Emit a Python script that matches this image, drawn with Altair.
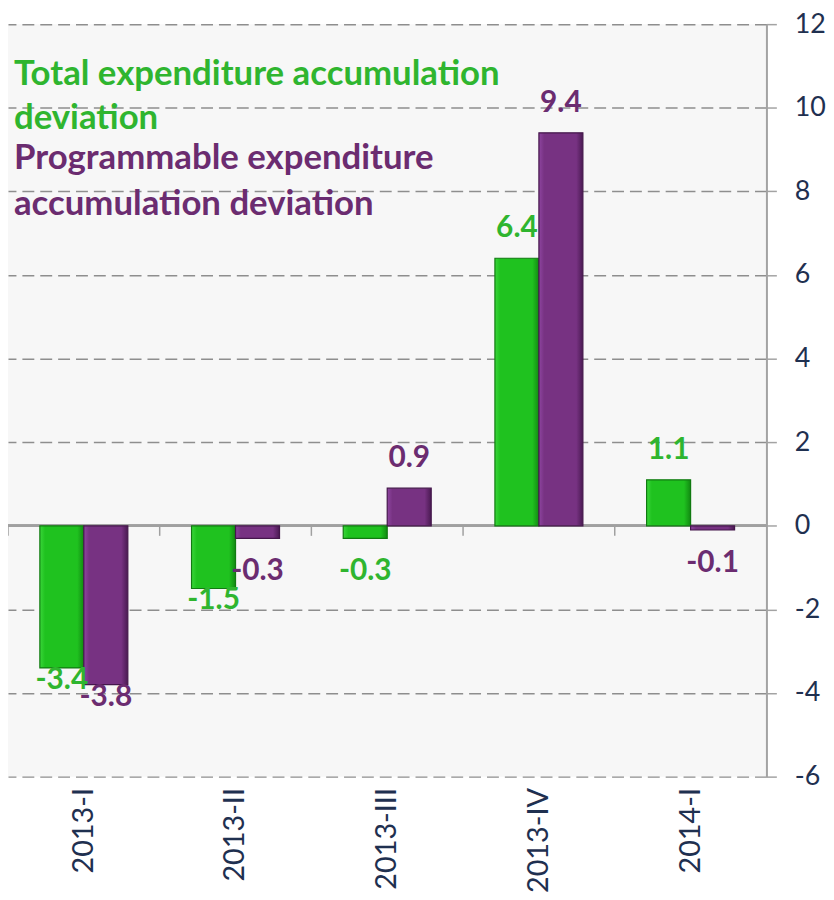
import altair as alt
import pandas as pd

quarters = ["2013-I", "2013-II", "2013-III", "2013-IV", "2014-I"]
total_dev = [-3.4, -1.5, -0.3, 6.4, 1.1]
prog_dev = [-3.8, -0.3, 0.9, 9.4, -0.1]
series_names = ["Total", "Programmable"]
y_ticks = [-6, -4, -2, 0, 2, 4, 6, 8, 10, 12]

GREEN_TXT = "#2fb52f"
PURPLE_TXT = "#6b2c70"

rows = []
for q, t, p in zip(quarters, total_dev, prog_dev):
    rows.append({"quarter": q, "series": "Total", "value": t})
    rows.append({"quarter": q, "series": "Programmable", "value": p})
df = pd.DataFrame(rows)

FONT = "Lato"

x_enc = alt.X("quarter:N", sort=quarters,
              scale=alt.Scale(paddingInner=0.42, paddingOuter=0.21),
              axis=alt.Axis(title=None, labelAngle=270, labelAlign="right",
                            labelBaseline="middle", labelFont=FONT,
                            labelFontSize=29, labelColor="#1f3050",
                            labelPadding=11, domain=False, ticks=False,
                            grid=False))
xo = alt.XOffset("series:N", sort=series_names,
                 scale=alt.Scale(domain=series_names, paddingInner=0, paddingOuter=0))
y_scale = alt.Scale(domain=[-6, 12], nice=False, zero=False)
y_enc = alt.Y("value:Q", scale=y_scale,
              axis=alt.Axis(orient="right", values=y_ticks, title=None,
                            grid=True, gridDash=[12, 6], gridColor="#8e8e8e",
                            gridWidth=1.5, domainColor="#a3a3a3", domainWidth=2,
                            tickColor="#a3a3a3", tickSize=10, tickWidth=1.5,
                            labelFont=FONT, labelFontSize=27,
                            labelColor="#1f3050", labelPadding=18,
                            labelAlign="left",
                            labelExpr="'' + datum.value"))

base = alt.Chart(df).transform_calculate(label="'' + datum.value")

def grad(edge_l, mid, edge_r):
    return alt.Gradient(gradient="linear", x1=0, x2=1, y1=0, y2=0,
                        stops=[alt.GradientStop(color=edge_l, offset=0),
                               alt.GradientStop(color=mid, offset=0.12),
                               alt.GradientStop(color=mid, offset=0.85),
                               alt.GradientStop(color=edge_r, offset=1)])

green_bars = base.transform_filter(alt.datum.series == "Total").mark_bar(
    fill=grad("#3ad63a", "#1fc21f", "#128a12"), stroke="#117a11", strokeWidth=1.2
).encode(x=x_enc, xOffset=xo, y=y_enc, y2=alt.datum(0))

purple_bars = base.transform_filter(alt.datum.series == "Programmable").mark_bar(
    fill=grad("#8e45a0", "#773282", "#4a1a52"), stroke="#44174b", strokeWidth=1.2
).encode(x=x_enc, xOffset=xo, y=y_enc, y2=alt.datum(0))

# zero line
zero_rule = base.mark_rule(color="#a0a0a0", strokeWidth=2).encode(y=alt.datum(0))

def labels(series, color, cond, dy):
    return base.transform_filter(alt.datum.series == series).transform_filter(cond).mark_text(
        font=FONT, fontWeight="bold", fontSize=30, color=color, dy=dy,
        baseline="middle", align="center"
    ).encode(x=x_enc, xOffset=xo, y=y_enc, text="label:N")

label_layers = []
for s, c in [("Total", GREEN_TXT), ("Programmable", PURPLE_TXT)]:
    label_layers.append(labels(s, c, alt.datum.value >= 0, -30))
    label_layers.append(labels(s, c, (alt.datum.value < 0) & (alt.datum.value > -1), 33))
    label_layers.append(labels(s, c, alt.datum.value <= -1, 12))

legend_df = pd.DataFrame({"a": [0]})
legend_green = alt.Chart(legend_df).mark_text(
    text=["Total expenditure accumulation", "deviation"], lineHeight=45,
    font=FONT, fontWeight="bold", fontSize=35, color=GREEN_TXT,
    align="left", baseline="alphabetic"
).encode(x=alt.value(6), y=alt.value(61))
legend_purple = alt.Chart(legend_df).mark_text(
    text=["Programmable expenditure", "accumulation deviation"], lineHeight=46,
    font=FONT, fontWeight="bold", fontSize=35, color=PURPLE_TXT,
    align="left", baseline="alphabetic"
).encode(x=alt.value(6), y=alt.value(146))

main = alt.layer(zero_rule, green_bars, purple_bars, *label_layers,
                 legend_green, legend_purple)

# category boundary ticks on the zero line
tick_df = pd.DataFrame({"boundary": quarters})
ticks = alt.Chart(tick_df).mark_rule(color="#a0a0a0", strokeWidth=1.5).encode(
    x=alt.X("boundary:N", sort=quarters, bandPosition=0,
            scale=alt.Scale(paddingInner=0, paddingOuter=0), axis=None),
    y=alt.datum(0), y2=alt.datum(-0.24))

chart = alt.layer(main, ticks).resolve_scale(x="independent").properties(
    width=764, height=758,
    autosize=alt.AutoSizeParams(type="none"),
    padding={"left": 0, "top": 13, "right": 60, "bottom": 120},
).configure_view(fill="#f7f7f7", strokeWidth=0)

chart.save("out.html", embed_options={"renderer": "svg", "actions": False})
